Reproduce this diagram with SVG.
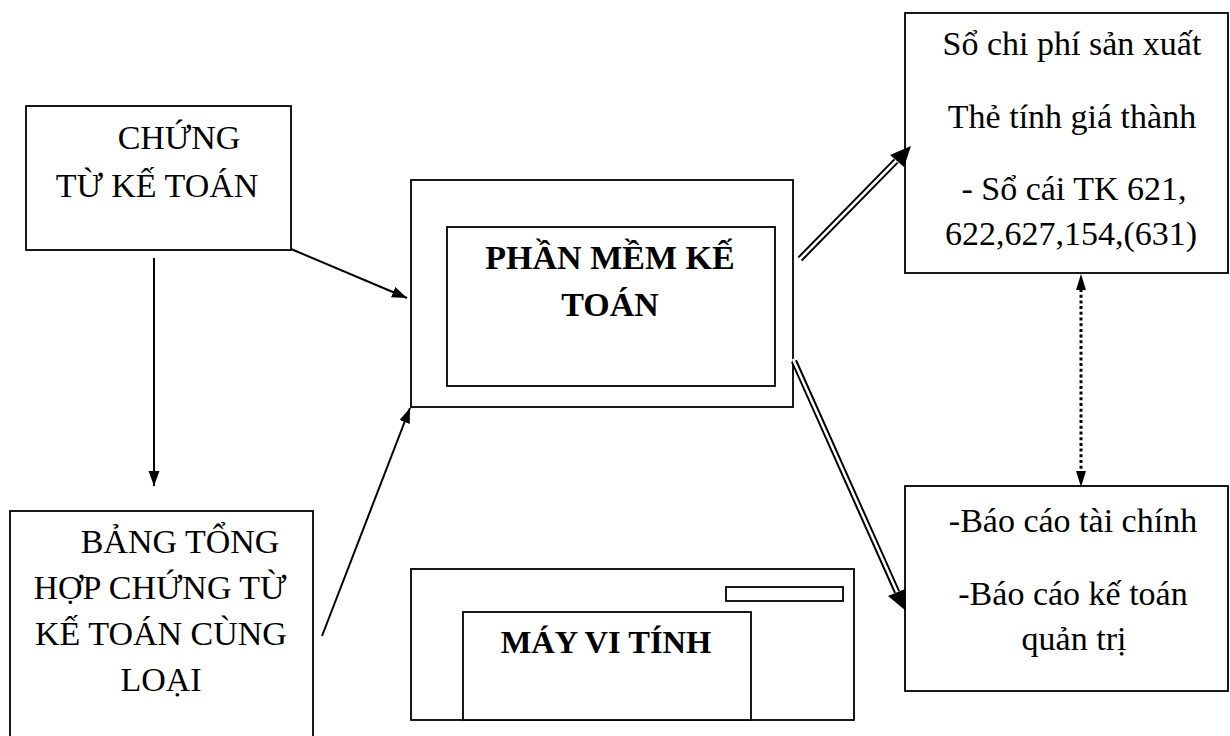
<svg xmlns="http://www.w3.org/2000/svg" width="1230" height="736" viewBox="0 0 1230 736">
<style>
.box{fill:#fff;stroke:#000;stroke-width:1.8}
.t{font-family:"Liberation Serif","Times New Roman",serif;font-size:34px;fill:#000;text-anchor:middle}
.b{font-weight:bold}
.ln{stroke:#000;stroke-width:2;fill:none}
.dbl-o{stroke:#000;stroke-width:6.5;fill:none}
.dbl-i{stroke:#fff;stroke-width:2.5;fill:none}
.dot{stroke:#000;stroke-width:3;stroke-dasharray:3 2.7;fill:none}
</style>
<defs>
<marker id="ah" markerUnits="userSpaceOnUse" markerWidth="16" markerHeight="12" refX="15" refY="5.5" orient="auto">
<path d="M0,0 L15,5.5 L0,11 Z" fill="#000"/>
</marker>
</defs>
<rect width="1230" height="736" fill="#fff"/>
<g id="chung-tu">
<rect class="box" x="26" y="106" width="265" height="144"/>
<text class="t" x="179" y="149">CHỨNG</text>
<text class="t" x="157" y="197">TỪ KẾ TOÁN</text>
</g>
<g id="bang-tong-hop">
<rect class="box" x="10" y="511" width="303" height="240"/>
<text class="t" x="180" y="553">BẢNG TỔNG</text>
<text class="t" x="160" y="599">HỢP CHỨNG TỪ</text>
<text class="t" x="161" y="645">KẾ TOÁN CÙNG</text>
<text class="t" x="161" y="691">LOẠI</text>
</g>
<g id="phan-mem">
<rect class="box" x="411" y="180" width="382" height="227"/>
<rect class="box" x="447" y="227" width="328" height="159"/>
<text class="t b" x="610" y="269">PHẦN MỀM KẾ</text>
<text class="t b" x="610" y="316">TOÁN</text>
</g>
<g id="may-vi-tinh">
<rect class="box" x="411" y="569" width="443" height="151"/>
<rect class="box" x="726" y="587" width="117" height="14"/>
<rect class="box" x="463" y="612" width="288" height="108"/>
<text class="t b" x="606" y="653" style="font-size:32.5px">MÁY VI TÍNH</text>
</g>
<g id="so-chi-phi">
<rect class="box" x="905" y="13" width="323" height="260"/>
<text class="t" x="1072" y="55">Sổ chi phí sản xuất</text>
<text class="t" x="1072" y="128">Thẻ tính giá thành</text>
<text class="t" x="1074" y="200">- Sổ cái TK 621,</text>
<text class="t" x="1071" y="245">622,627,154,(631)</text>
</g>
<g id="bao-cao">
<rect class="box" x="905" y="486" width="323" height="205"/>
<text class="t" x="1073" y="532">-Báo cáo tài chính</text>
<text class="t" x="1073" y="605">-Báo cáo kế toán</text>
<text class="t" x="1074" y="650">quản trị</text>
</g>
<g id="connectors">
<line class="ln" x1="154" y1="258" x2="154" y2="486" marker-end="url(#ah)"/>
<line class="ln" x1="291" y1="249" x2="407" y2="298" marker-end="url(#ah)"/>
<line class="ln" x1="322" y1="636" x2="410" y2="408" marker-end="url(#ah)"/>
<line class="dot" x1="1081" y1="289" x2="1081" y2="472"/>
<path d="M1081,274 L1086,290 L1076,290 Z" fill="#000"/>
<path d="M1081,487 L1086,471 L1076,471 Z" fill="#000"/>
<line class="dbl-o" x1="800" y1="259" x2="896" y2="161"/>
<line class="dbl-i" x1="798" y1="261" x2="898" y2="159"/>
<path d="M911,146 L904,167 L890,155 Z" fill="#000"/>
<line class="dbl-o" x1="794" y1="361" x2="897" y2="592"/>
<line class="dbl-i" x1="793" y1="359" x2="898" y2="594"/>
<path d="M906,611 L888,596 L905,589 Z" fill="#000"/>
</g>
</svg>
